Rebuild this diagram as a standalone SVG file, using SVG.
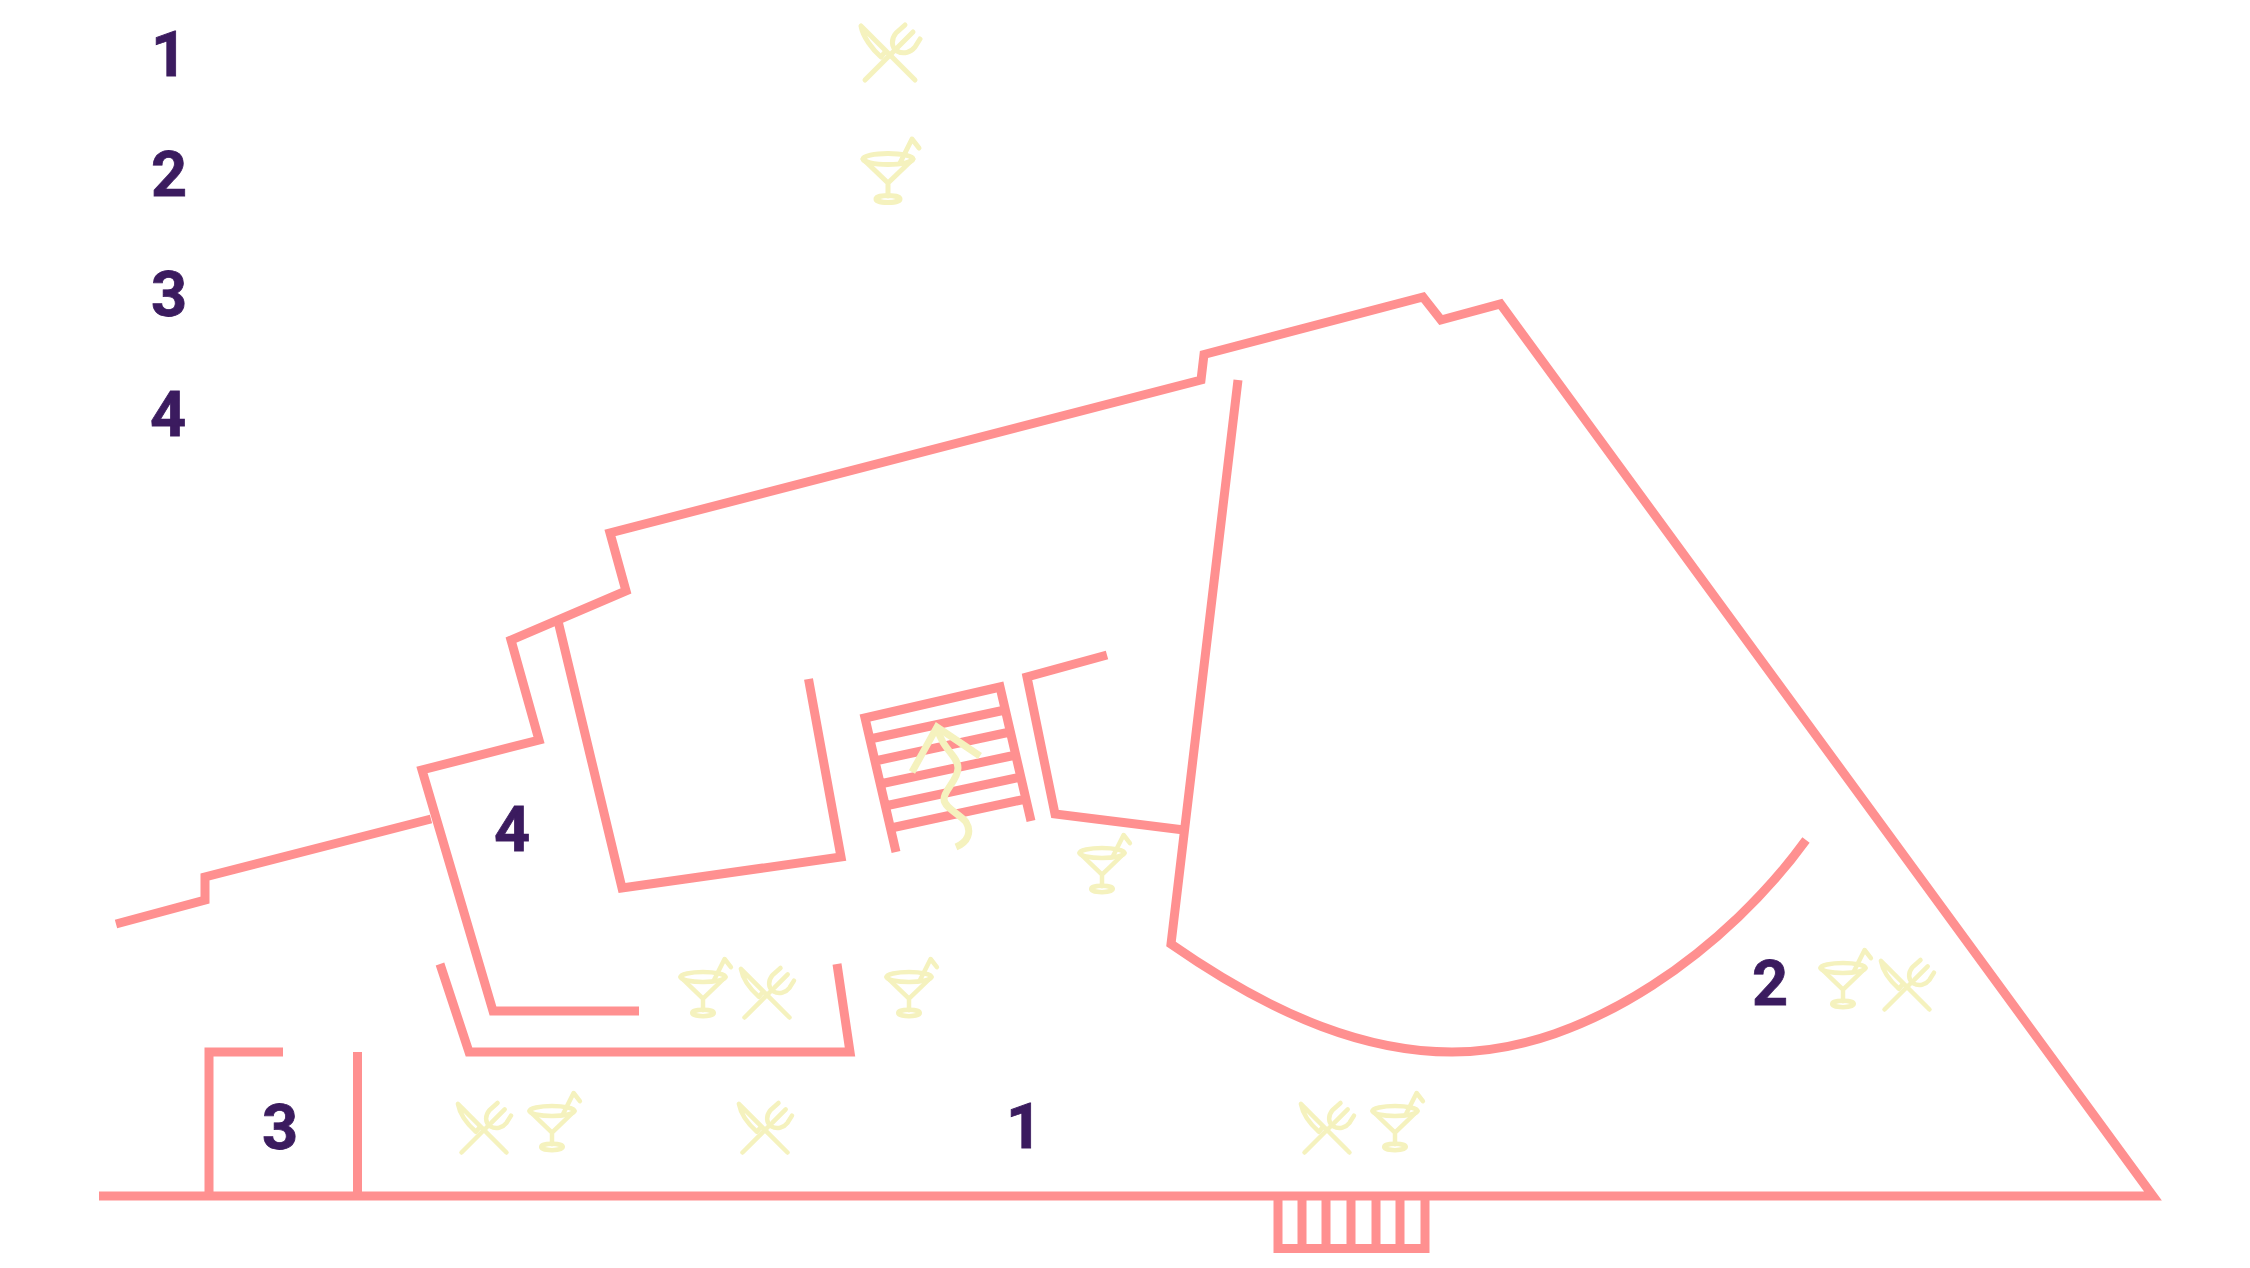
<svg xmlns="http://www.w3.org/2000/svg" width="2250" height="1268" viewBox="0 0 2250 1268">
<style>
.w{fill:none;stroke:#ff9090;stroke-width:9;stroke-linejoin:miter}
.i{fill:none;stroke:#f5f2be;stroke-width:5;stroke-linecap:round;stroke-linejoin:round}
.n{font-family:Roboto,"Liberation Sans",sans-serif;font-weight:700;font-size:63px;fill:#3b1b5f;stroke:#3b1b5f;stroke-width:.8;text-anchor:middle}
</style>
<defs>
<g id="cut" class="i"><path d="M25,25 L-29,-29 C-27,-18 -18,-6 -9,2 L-5,-3"/><path d="M-25,25 L5,-5"/><path d="M15,-30 L6,-22 C1,-16 1,-8 7,-4 C14,0 21,-3 25,-8 L30,-16"/><path d="M23,-23 L8,-8"/></g>
<g id="coc" class="i"><ellipse rx="25" ry="5.500"/><path d="M-25,0 L0,24 L25,0 M0,24 V37"/><ellipse cy="40" rx="12" ry="3.500"/><path d="M12,4 L24,-20 L31,-11"/></g>
</defs>
<rect width="2250" height="1268" fill="#fff"/>
<g id="walls">
<path class="w" d="M99,1196 H2153 L1500.500,304 L1441,320 L1423,297 L1204,354.500 L1201,380 L610,533 L626,591 L511,640 L539,740 L422,770 L493,1011 H639"/>
<path class="w" d="M116,924 L205,900 V877 L431,819"/>
<path class="w" d="M440,964 L469,1052 H850 L837,964"/>
<path class="w" d="M283,1052 H209 V1196 M357.500,1052 V1196"/>
<path class="w" d="M558,621 L622,888 L841,857 L808.500,679"/>
<path class="w" d="M896,852 L865,718 L1000,687 L1031,821 M870,739 L1005,710 M875,761 L1010,732 M880,784 L1016,755 M885,806 L1021,777 M891,828 L1026,799"/>
<path class="w" d="M1107,655 L1027,677 L1055,814 L1184,830"/>
<path class="w" d="M1238,380 L1171,944 C1280,1020 1370,1052 1452,1052 C1590,1052 1730,945 1806,840"/>
<path class="w" d="M1278,1196 V1248.500 H1425 V1196 M1302,1196 V1248 M1326,1196 V1248 M1351,1196 V1248 M1376,1196 V1248 M1400,1196 V1248"/>
</g>
<g id="arrow" fill="none" stroke="#f5f2be" stroke-width="7">
<path d="M956,847 C968,842 972,832 966,822 C960,814 944,808 944,799 C944,790 958,780 958,768 C958,755 942,750 937,727"/>
<path d="M912,772 L937,727 L980,756"/>
</g>
<g id="legend"><text class="n" x="169" y="76">1</text><text class="n" x="169" y="196">2</text><text class="n" x="169" y="316">3</text><text class="n" x="168" y="436">4</text></g>
<g id="labels"><text class="n" x="1024" y="1148">1</text><text class="n" x="1770" y="1005">2</text><text class="n" x="280" y="1149">3</text><text class="n" x="512" y="851">4</text></g>
<g id="icons">
<use href="#cut" transform="translate(890,55)"/>
<use href="#coc" transform="translate(888,159)"/>
<use href="#coc" transform="translate(1102,853) scale(.9)"/>
<use href="#coc" transform="translate(703,977) scale(.9)"/>
<use href="#cut" transform="translate(767,995) scale(.9)"/>
<use href="#coc" transform="translate(909,977) scale(.9)"/>
<use href="#cut" transform="translate(484,1130) scale(.9)"/>
<use href="#coc" transform="translate(552,1111) scale(.9)"/>
<use href="#cut" transform="translate(765,1130) scale(.9)"/>
<use href="#cut" transform="translate(1327,1130) scale(.9)"/>
<use href="#coc" transform="translate(1395,1111) scale(.9)"/>
<use href="#coc" transform="translate(1843,968) scale(.9)"/>
<use href="#cut" transform="translate(1907,987) scale(.9)"/>
</g>
</svg>
